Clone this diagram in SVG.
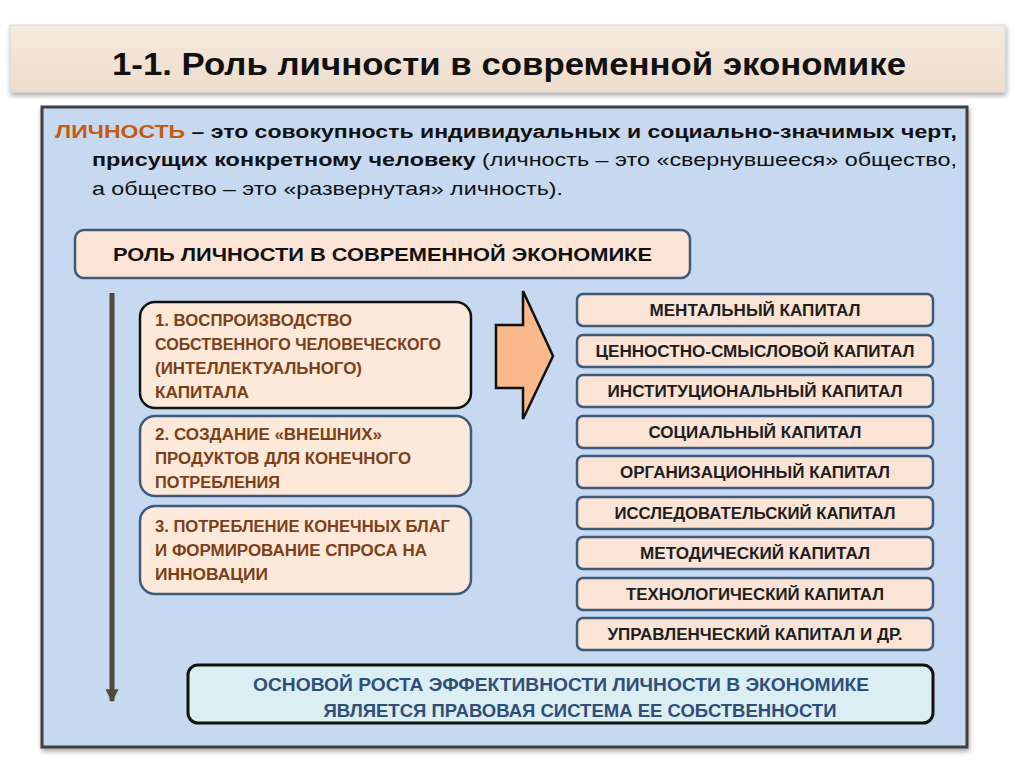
<svg xmlns="http://www.w3.org/2000/svg" width="1024" height="767" viewBox="0 0 1024 767">
<defs>
<linearGradient id="titleG" x1="0" y1="0" x2="0" y2="1">
<stop offset="0" stop-color="#f6ebe0"/><stop offset="1" stop-color="#ecdccb"/>
</linearGradient>
<filter id="sh" x="-5%" y="-5%" width="110%" height="115%">
<feDropShadow dx="1" dy="3" stdDeviation="2.5" flood-color="#000" flood-opacity="0.35"/>
</filter>
<marker id="down" viewBox="0 0 10 10" refX="9" refY="5" markerWidth="2.6" markerHeight="2.6" orient="auto">
<path d="M0,0 L10,5 L0,10 Z" fill="#4d4d3a"/>
</marker>
<style>
.t{font-family:"Liberation Sans",Arial,sans-serif;}
.b{font-weight:bold;}
.cap{fill:#fbe4d5;stroke:#3e5a7a;stroke-width:2.5;}
.rt{font-family:"Liberation Sans",Arial,sans-serif;font-weight:bold;font-size:16px;fill:#1e1e1e;text-anchor:middle;}
.lt{font-family:"Liberation Sans",Arial,sans-serif;font-weight:bold;font-size:16px;fill:#7b4018;}
</style>
</defs>
<rect width="1024" height="767" fill="#ffffff"/>

<g id="title">
<rect x="10" y="25" width="995" height="67" fill="url(#titleG)" stroke="#d8d8d8" stroke-width="1" filter="url(#sh)"/>
<text x="509" y="75" class="t b" font-size="31" text-anchor="middle" fill="#111" textLength="794" lengthAdjust="spacingAndGlyphs">1-1. Роль личности в современной экономике</text>
</g>

<g id="panel">
<rect x="42" y="107" width="925" height="640" fill="#c6d9f0" stroke="#3f3f3f" stroke-width="3" filter="url(#sh)"/>
</g>

<g id="definition" class="t" font-size="18" fill="#111">
<text x="55" y="138" textLength="902" lengthAdjust="spacingAndGlyphs"><tspan class="b" fill="#c55a11">ЛИЧНОСТЬ</tspan><tspan class="b"> – это совокупность индивидуальных и социально-значимых черт,</tspan></text>
<text x="92" y="166" textLength="865" lengthAdjust="spacingAndGlyphs"><tspan class="b">присущих конкретному человеку</tspan> (личность – это «свернувшееся» общество,</text>
<text x="92" y="195" textLength="471" lengthAdjust="spacingAndGlyphs">а общество – это «развернутая» личность).</text>
</g>

<g id="role">
<rect x="75" y="230" width="615" height="48" rx="9" class="cap"/>
<text x="113" y="261" class="t b" font-size="19" fill="#111" textLength="539" lengthAdjust="spacingAndGlyphs">РОЛЬ ЛИЧНОСТИ В СОВРЕМЕННОЙ ЭКОНОМИКЕ</text>
</g>

<g id="connectors">
<line x1="112" y1="293" x2="112" y2="701" stroke="#4d4d3a" stroke-width="5" marker-end="url(#down)"/>
<path d="M496,325 L523,325 L523,291 L553,356 L523,419 L523,388 L496,388 Z" fill="#f9b98a" stroke="#111" stroke-width="2.5" stroke-linejoin="miter"/>
</g>

<g id="item1">
<rect x="140" y="302" width="331" height="106" rx="15" fill="#fde9d9" stroke="#111" stroke-width="2.5"/>
<text x="155" y="326" class="lt" textLength="197" lengthAdjust="spacingAndGlyphs">1. ВОСПРОИЗВОДСТВО</text>
<text x="155" y="350" class="lt" textLength="286" lengthAdjust="spacingAndGlyphs">СОБСТВЕННОГО ЧЕЛОВЕЧЕСКОГО</text>
<text x="155" y="374" class="lt" textLength="207" lengthAdjust="spacingAndGlyphs">(ИНТЕЛЛЕКТУАЛЬНОГО)</text>
<text x="155" y="398" class="lt" textLength="94" lengthAdjust="spacingAndGlyphs">КАПИТАЛА</text>
</g>

<g id="item2">
<rect x="140" y="416" width="331" height="80" rx="15" fill="#fde9d9" stroke="#3e5a7a" stroke-width="2.5"/>
<text x="155" y="440" class="lt" textLength="227" lengthAdjust="spacingAndGlyphs">2. СОЗДАНИЕ «ВНЕШНИХ»</text>
<text x="155" y="464" class="lt" textLength="256" lengthAdjust="spacingAndGlyphs">ПРОДУКТОВ ДЛЯ КОНЕЧНОГО</text>
<text x="155" y="488" class="lt" textLength="125" lengthAdjust="spacingAndGlyphs">ПОТРЕБЛЕНИЯ</text>
</g>

<g id="item3">
<rect x="140" y="506" width="331" height="88" rx="15" fill="#fde9d9" stroke="#3e5a7a" stroke-width="2.5"/>
<text x="155" y="532" class="lt" textLength="295" lengthAdjust="spacingAndGlyphs">3. ПОТРЕБЛЕНИЕ КОНЕЧНЫХ БЛАГ</text>
<text x="155" y="556" class="lt" textLength="272" lengthAdjust="spacingAndGlyphs">И ФОРМИРОВАНИЕ СПРОСА НА</text>
<text x="155" y="580" class="lt" textLength="113" lengthAdjust="spacingAndGlyphs">ИННОВАЦИИ</text>
</g>

<g id="cap1"><rect x="577" y="294" width="356" height="32" rx="6" class="cap"/><text x="755" y="316" class="rt" textLength="211" lengthAdjust="spacingAndGlyphs">МЕНТАЛЬНЫЙ КАПИТАЛ</text></g>
<g id="cap2"><rect x="577" y="335" width="356" height="32" rx="6" class="cap"/><text x="755" y="357" class="rt" textLength="319" lengthAdjust="spacingAndGlyphs">ЦЕННОСТНО-СМЫСЛОВОЙ КАПИТАЛ</text></g>
<g id="cap3"><rect x="577" y="375" width="356" height="32" rx="6" class="cap"/><text x="755" y="397" class="rt" textLength="295" lengthAdjust="spacingAndGlyphs">ИНСТИТУЦИОНАЛЬНЫЙ КАПИТАЛ</text></g>
<g id="cap4"><rect x="577" y="416" width="356" height="32" rx="6" class="cap"/><text x="755" y="438" class="rt" textLength="213" lengthAdjust="spacingAndGlyphs">СОЦИАЛЬНЫЙ КАПИТАЛ</text></g>
<g id="cap5"><rect x="577" y="456" width="356" height="32" rx="6" class="cap"/><text x="755" y="478" class="rt" textLength="270" lengthAdjust="spacingAndGlyphs">ОРГАНИЗАЦИОННЫЙ КАПИТАЛ</text></g>
<g id="cap6"><rect x="577" y="497" width="356" height="32" rx="6" class="cap"/><text x="755" y="519" class="rt" textLength="281" lengthAdjust="spacingAndGlyphs">ИССЛЕДОВАТЕЛЬСКИЙ КАПИТАЛ</text></g>
<g id="cap7"><rect x="577" y="537" width="356" height="32" rx="6" class="cap"/><text x="755" y="559" class="rt" textLength="230" lengthAdjust="spacingAndGlyphs">МЕТОДИЧЕСКИЙ КАПИТАЛ</text></g>
<g id="cap8"><rect x="577" y="578" width="356" height="32" rx="6" class="cap"/><text x="755" y="600" class="rt" textLength="258" lengthAdjust="spacingAndGlyphs">ТЕХНОЛОГИЧЕСКИЙ КАПИТАЛ</text></g>
<g id="cap9"><rect x="577" y="618" width="356" height="32" rx="6" class="cap"/><text x="755" y="640" class="rt" textLength="295" lengthAdjust="spacingAndGlyphs">УПРАВЛЕНЧЕСКИЙ КАПИТАЛ И ДР.</text></g>

<g id="basis">
<rect x="188" y="665" width="745" height="58" rx="10" fill="#dbeef4" stroke="#111" stroke-width="3"/>
<text x="561" y="691" class="t b" font-size="18" fill="#2f4f78" text-anchor="middle" textLength="616" lengthAdjust="spacingAndGlyphs">ОСНОВОЙ РОСТА ЭФФЕКТИВНОСТИ ЛИЧНОСТИ В ЭКОНОМИКЕ</text>
<text x="580" y="717" class="t b" font-size="18" fill="#2f4f78" text-anchor="middle" textLength="513" lengthAdjust="spacingAndGlyphs">ЯВЛЯЕТСЯ ПРАВОВАЯ СИСТЕМА ЕЕ СОБСТВЕННОСТИ</text>
</g>
</svg>
